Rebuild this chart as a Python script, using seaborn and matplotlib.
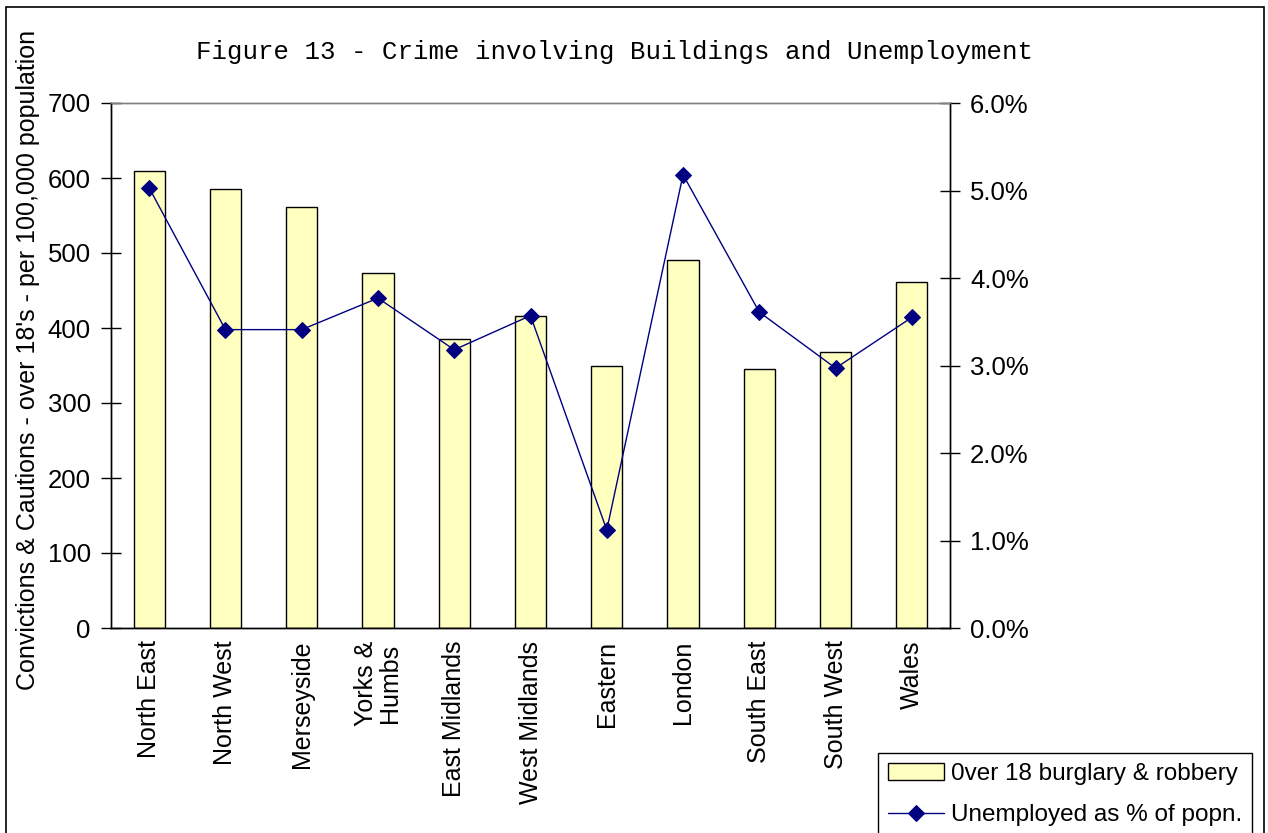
import matplotlib
matplotlib.use("Agg")
import matplotlib.pyplot as plt
from matplotlib.ticker import PercentFormatter, FixedLocator
import seaborn as sns

# Data
regions = ['North East', 'North West', 'Merseyside', 'Yorks &\nHumbs', 'East Midlands',
           'West Midlands', 'Eastern', 'London', 'South East', 'South West', 'Wales']
burglary = [610, 586, 562, 474, 386, 416, 349, 491, 346, 368, 461]
unemployed_pct = [5.03, 3.41, 3.41, 3.77, 3.18, 3.57, 1.12, 5.18, 3.61, 2.97, 3.55]

title = 'Figure 13 - Crime involving Buildings and Unemployment'
ylabel = "Convictions & Cautions - over 18's - per 100,000 population"
bar_label = '0ver 18 burglary & robbery'
line_label = 'Unemployed as % of popn.'

sns.set_style('white')
plt.rcParams['font.family'] = ['Liberation Sans', 'DejaVu Sans']
plt.rcParams['text.color'] = 'black'
plt.rcParams['xtick.color'] = 'black'
plt.rcParams['ytick.color'] = 'black'

W, H = 1268, 833
fig = plt.figure(figsize=(W / 100, H / 100), dpi=100)
ax = fig.add_axes([111 / W, 1 - 628 / H, (950 - 111) / W, (628 - 103) / H])

# bars
sns.barplot(x=regions, y=burglary, ax=ax, color='#FFFFC0', edgecolor='black',
            linewidth=1, width=0.41, saturation=1)
ax.set_xlim(-0.5, len(regions) - 0.5)
ax.set_ylim(0, 700)
ax.set_yticks(range(0, 701, 100))
ax.set_xlabel('')
ax.set_ylabel('')

# line on secondary axis
ax2 = ax.twinx()
sns.pointplot(x=regions, y=unemployed_pct, ax=ax2, color='#000080', markers='D',
              linewidth=1, markersize=8)
ax2.set_xlim(-0.5, len(regions) - 0.5)
ax2.set_ylim(0, 6)
ax2.set_yticks(range(0, 7))
ax2.yaxis.set_major_formatter(PercentFormatter(100, decimals=1))
ax2.set_ylabel('')

# ticks and spines
ax.set_xticks(range(len(regions)))
ax.set_xticklabels(regions, rotation=90, fontsize=18, va='top', ha='center', linespacing=1.0)
ax.xaxis.set_minor_locator(FixedLocator([i - 0.5 for i in range(len(regions) + 1)]))
ax.tick_params(axis='x', which='major', length=0, pad=9)
ax.tick_params(axis='x', which='minor', length=7, direction='out', width=1, color='black')
ax.tick_params(axis='y', length=15, direction='inout', width=1, labelsize=18.5, pad=7, color='black')
ax2.tick_params(axis='y', length=15, direction='inout', width=1, labelsize=18.5, pad=7, color='black')
ax2.tick_params(axis='x', length=0)

for a in (ax, ax2):
    for side in ('left', 'right', 'bottom'):
        a.spines[side].set_color('black')
        a.spines[side].set_linewidth(1)
    a.spines['top'].set_color('#808080')
    a.spines['top'].set_linewidth(1)

# title and y label
fig.text(0.485, 1 - 52 / H, title, ha='center', va='center', fontsize=18.5,
         family=['Liberation Mono', 'DejaVu Sans Mono'])
fig.text(28 / W, 1 - 690 / H, ylabel, rotation=90, ha='center', va='bottom', fontsize=18)

# legend
handles = [ax.patches[0], ax2.lines[0]]
leg = fig.legend(handles, [bar_label, line_label], loc='upper left',
                 bbox_to_anchor=(878 / W, 1 - 753 / H), borderaxespad=0, fontsize=17.5,
                 frameon=True, fancybox=False, edgecolor='black', framealpha=1,
                 handlelength=2.3, borderpad=0.4, labelspacing=0.8, handletextpad=0.3)
leg.get_frame().set_linewidth(1)

# outer chart border
fig.add_artist(plt.Rectangle((6 / W, -0.02), (1264 - 6) / W, 1 - 7 / H + 0.02,
                             transform=fig.transFigure, fill=False,
                             edgecolor='black', linewidth=1.2))

fig.savefig('out.png', dpi=100)
